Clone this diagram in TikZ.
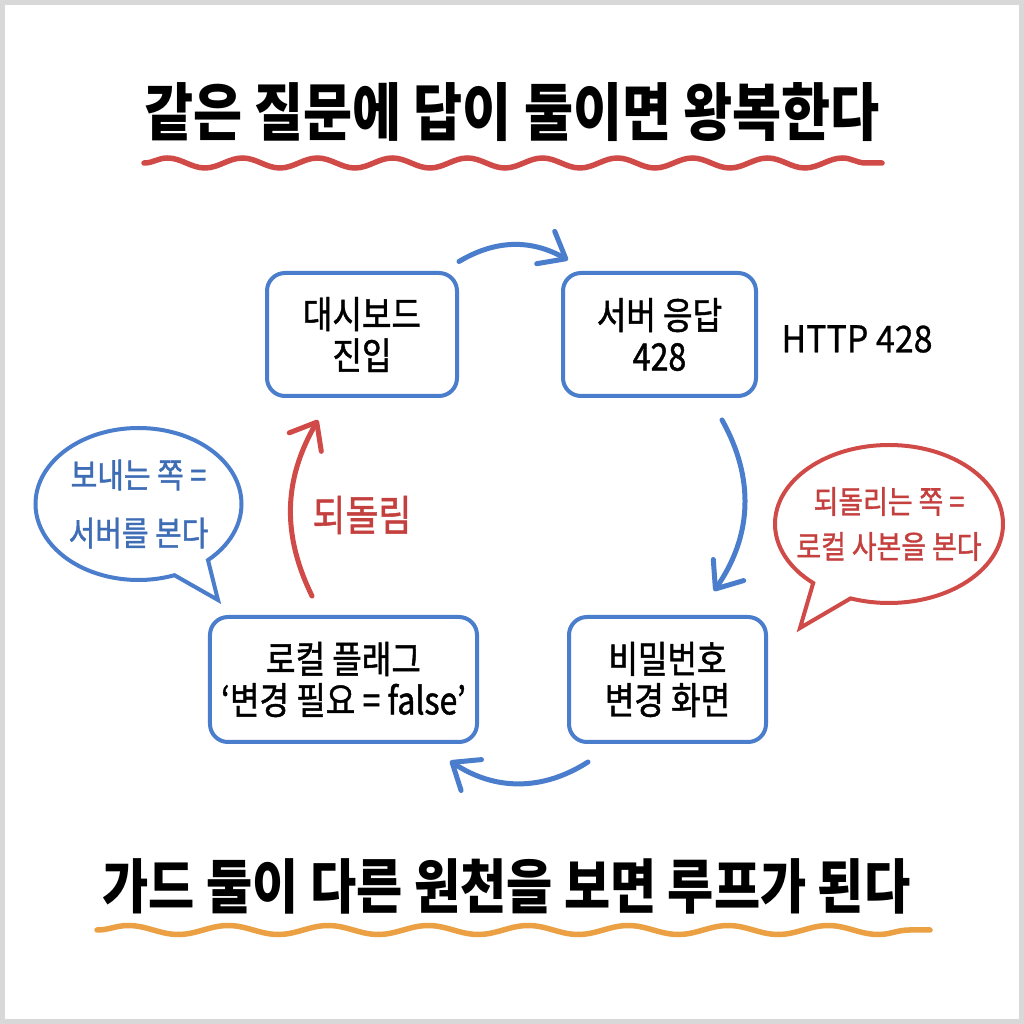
\documentclass[tikz,border=0pt]{standalone}
\usepackage{fontspec}
\setmainfont{Noto Sans CJK KR}[FakeStretch=0.85]
\newfontfamily\medfont{Noto Sans CJK KR}[FakeStretch=0.85, FakeBold=1.2]
\newfontfamily\httpfont{Noto Sans CJK KR}[FakeStretch=0.92, FakeBold=0.8]
\usetikzlibrary{arrows.meta,shapes.callouts,decorations.pathmorphing}
\definecolor{flowblue}{HTML}{4A7DCB}
\definecolor{textblue}{HTML}{3E6DB6}
\definecolor{backred}{HTML}{D04A47}
\definecolor{textred}{HTML}{C4403E}
\definecolor{waveorange}{HTML}{EBA143}
\definecolor{framegray}{HTML}{D8D8D8}
\begin{document}
\begin{tikzpicture}[
        x=0.2mm, y=0.2mm,
        >={Straight Barb[length=4.6mm,width=7.4mm,round]},
        box/.style={draw=flowblue, line width=0.8mm, rounded corners=3.6mm,
            align=center, inner sep=0pt, minimum height=24.6mm,
            font=\medfont\fontsize{21.5pt}{23.5pt}\selectfont},
        flow/.style={->, draw=flowblue, line width=1mm, line cap=round},
        back/.style={->, draw=backred, line width=1mm, line cap=round},
        bubble/.style={ellipse callout, line width=0.8mm, align=center,
            inner sep=0pt, callout pointer arc=22},
        wave/.style={decorate, decoration={snake, segment length=15mm,
            amplitude=1mm}, line width=1.1mm, line cap=round}
    ]
        \useasboundingbox (0,0) rectangle (1024,1024);
        \fill[white] (0,0) rectangle (1024,1024);
        \draw[framegray, line width=2mm] (0,0) rectangle (1024,1024);
        \node[font=\bfseries\fontsize{35.7pt}{40pt}\selectfont] (title) at (512,912)
            {같은 질문에 답이 둘이면 왕복한다};
        \draw[wave, draw=backred] (144,861) -- (882,861);
        \node[box, minimum width=38mm] (dash) at (362,689.5) {대시보드\\진입};
        \node[box, minimum width=38.6mm] (srv) at (659.5,689.5) {서버 응답\\428};
        \node[font=\httpfont\fontsize{21pt}{24pt}\selectfont] (http) at (857,685)
            {HTTP 428};
        \node[box, minimum width=39.4mm, minimum height=25mm] (pwd) at (667.5,344.5)
            {비밀번호\\변경 화면};
        \node[box, minimum width=53.4mm, minimum height=25mm] (flag) at (343.5,344.5)
            {로컬 플래그\\‘변경 필요 = false’};
        \node[text=textred, font=\medfont\fontsize{24pt}{26pt}\selectfont] (backlbl)
            at (362,509) {되돌림};
        \node[bubble, draw=flowblue, text=textblue, minimum width=41.2mm,
            minimum height=30.4mm, callout absolute pointer={(218,424)},
            font=\medfont\fontsize{19.4pt}{33pt}\selectfont] (sendside) at (138.5,520)
            {보내는 쪽 =\\서버를 본다};
        \node[bubble, draw=backred, text=textred, minimum width=45.6mm,
            minimum height=31.6mm, inner xsep=-3mm, callout absolute pointer={(800,396)},
            font=\medfont\fontsize{18pt}{25.6pt}\selectfont] (backside) at (889,500)
            {되돌리는 쪽 =\\로컬 사본을 본다};
        \draw[flow] ([yshift=1.9mm]dash.north east) to[bend left=30]
            ([xshift=1.4mm,yshift=2.2mm]srv.north west);
        \draw[flow] ([xshift=-7.2mm,yshift=-4.4mm]srv.south east) to[bend left=32]
            ([xshift=-10.8mm,yshift=4.8mm]pwd.north east);
        \draw[flow] ([xshift=4.2mm,yshift=-3.6mm]pwd.south west) to[bend left=33]
            ([xshift=-5.8mm,yshift=-3.4mm]flag.south east);
        \draw[back] ([xshift=-6.3mm,yshift=3.8mm]flag.north) to[bend left=28]
            ([xshift=-8.8mm,yshift=-4.4mm]dash.south);
        \node[font=\bfseries\fontsize{33.6pt}{38pt}\selectfont] (moral) at (506.5,138)
            {가드 둘이 다른 원천을 보면 루프가 된다};
        \draw[wave, draw=waveorange, decoration={segment length=20mm,
            amplitude=0.9mm}] (97,94) -- (930,94);
    \end{tikzpicture}
\end{document}
